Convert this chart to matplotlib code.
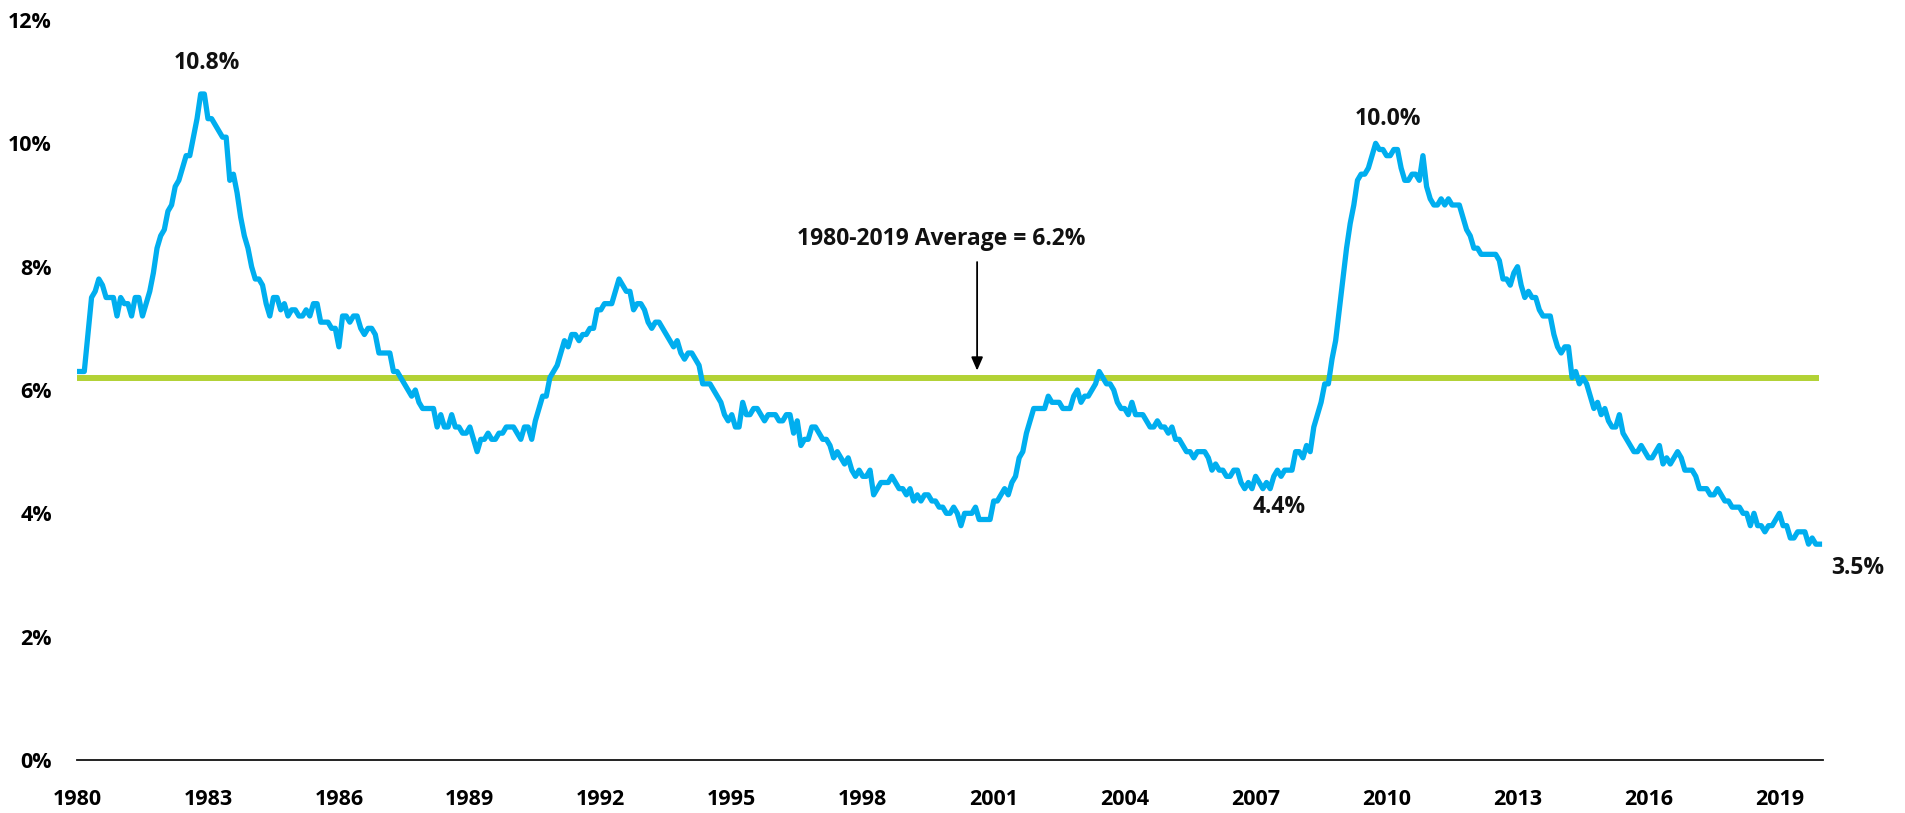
import matplotlib
matplotlib.use("Agg")
import matplotlib.pyplot as plt
import numpy as np

plt.rcParams['font.family'] = ['Open Sans', 'DejaVu Sans']

years = list(range(1980, 2020))
unemployment = [
    [6.3, 6.3, 6.3, 6.9, 7.5, 7.6, 7.8, 7.7, 7.5, 7.5, 7.5, 7.2],  # 1980
    [7.5, 7.4, 7.4, 7.2, 7.5, 7.5, 7.2, 7.4, 7.6, 7.9, 8.3, 8.5],  # 1981
    [8.6, 8.9, 9.0, 9.3, 9.4, 9.6, 9.8, 9.8, 10.1, 10.4, 10.8, 10.8],  # 1982
    [10.4, 10.4, 10.3, 10.2, 10.1, 10.1, 9.4, 9.5, 9.2, 8.8, 8.5, 8.3],  # 1983
    [8.0, 7.8, 7.8, 7.7, 7.4, 7.2, 7.5, 7.5, 7.3, 7.4, 7.2, 7.3],  # 1984
    [7.3, 7.2, 7.2, 7.3, 7.2, 7.4, 7.4, 7.1, 7.1, 7.1, 7.0, 7.0],  # 1985
    [6.7, 7.2, 7.2, 7.1, 7.2, 7.2, 7.0, 6.9, 7.0, 7.0, 6.9, 6.6],  # 1986
    [6.6, 6.6, 6.6, 6.3, 6.3, 6.2, 6.1, 6.0, 5.9, 6.0, 5.8, 5.7],  # 1987
    [5.7, 5.7, 5.7, 5.4, 5.6, 5.4, 5.4, 5.6, 5.4, 5.4, 5.3, 5.3],  # 1988
    [5.4, 5.2, 5.0, 5.2, 5.2, 5.3, 5.2, 5.2, 5.3, 5.3, 5.4, 5.4],  # 1989
    [5.4, 5.3, 5.2, 5.4, 5.4, 5.2, 5.5, 5.7, 5.9, 5.9, 6.2, 6.3],  # 1990
    [6.4, 6.6, 6.8, 6.7, 6.9, 6.9, 6.8, 6.9, 6.9, 7.0, 7.0, 7.3],  # 1991
    [7.3, 7.4, 7.4, 7.4, 7.6, 7.8, 7.7, 7.6, 7.6, 7.3, 7.4, 7.4],  # 1992
    [7.3, 7.1, 7.0, 7.1, 7.1, 7.0, 6.9, 6.8, 6.7, 6.8, 6.6, 6.5],  # 1993
    [6.6, 6.6, 6.5, 6.4, 6.1, 6.1, 6.1, 6.0, 5.9, 5.8, 5.6, 5.5],  # 1994
    [5.6, 5.4, 5.4, 5.8, 5.6, 5.6, 5.7, 5.7, 5.6, 5.5, 5.6, 5.6],  # 1995
    [5.6, 5.5, 5.5, 5.6, 5.6, 5.3, 5.5, 5.1, 5.2, 5.2, 5.4, 5.4],  # 1996
    [5.3, 5.2, 5.2, 5.1, 4.9, 5.0, 4.9, 4.8, 4.9, 4.7, 4.6, 4.7],  # 1997
    [4.6, 4.6, 4.7, 4.3, 4.4, 4.5, 4.5, 4.5, 4.6, 4.5, 4.4, 4.4],  # 1998
    [4.3, 4.4, 4.2, 4.3, 4.2, 4.3, 4.3, 4.2, 4.2, 4.1, 4.1, 4.0],  # 1999
    [4.0, 4.1, 4.0, 3.8, 4.0, 4.0, 4.0, 4.1, 3.9, 3.9, 3.9, 3.9],  # 2000
    [4.2, 4.2, 4.3, 4.4, 4.3, 4.5, 4.6, 4.9, 5.0, 5.3, 5.5, 5.7],  # 2001
    [5.7, 5.7, 5.7, 5.9, 5.8, 5.8, 5.8, 5.7, 5.7, 5.7, 5.9, 6.0],  # 2002
    [5.8, 5.9, 5.9, 6.0, 6.1, 6.3, 6.2, 6.1, 6.1, 6.0, 5.8, 5.7],  # 2003
    [5.7, 5.6, 5.8, 5.6, 5.6, 5.6, 5.5, 5.4, 5.4, 5.5, 5.4, 5.4],  # 2004
    [5.3, 5.4, 5.2, 5.2, 5.1, 5.0, 5.0, 4.9, 5.0, 5.0, 5.0, 4.9],  # 2005
    [4.7, 4.8, 4.7, 4.7, 4.6, 4.6, 4.7, 4.7, 4.5, 4.4, 4.5, 4.4],  # 2006
    [4.6, 4.5, 4.4, 4.5, 4.4, 4.6, 4.7, 4.6, 4.7, 4.7, 4.7, 5.0],  # 2007
    [5.0, 4.9, 5.1, 5.0, 5.4, 5.6, 5.8, 6.1, 6.1, 6.5, 6.8, 7.3],  # 2008
    [7.8, 8.3, 8.7, 9.0, 9.4, 9.5, 9.5, 9.6, 9.8, 10.0, 9.9, 9.9],  # 2009
    [9.8, 9.8, 9.9, 9.9, 9.6, 9.4, 9.4, 9.5, 9.5, 9.4, 9.8, 9.3],  # 2010
    [9.1, 9.0, 9.0, 9.1, 9.0, 9.1, 9.0, 9.0, 9.0, 8.8, 8.6, 8.5],  # 2011
    [8.3, 8.3, 8.2, 8.2, 8.2, 8.2, 8.2, 8.1, 7.8, 7.8, 7.7, 7.9],  # 2012
    [8.0, 7.7, 7.5, 7.6, 7.5, 7.5, 7.3, 7.2, 7.2, 7.2, 6.9, 6.7],  # 2013
    [6.6, 6.7, 6.7, 6.2, 6.3, 6.1, 6.2, 6.1, 5.9, 5.7, 5.8, 5.6],  # 2014
    [5.7, 5.5, 5.4, 5.4, 5.6, 5.3, 5.2, 5.1, 5.0, 5.0, 5.1, 5.0],  # 2015
    [4.9, 4.9, 5.0, 5.1, 4.8, 4.9, 4.8, 4.9, 5.0, 4.9, 4.7, 4.7],  # 2016
    [4.7, 4.6, 4.4, 4.4, 4.4, 4.3, 4.3, 4.4, 4.3, 4.2, 4.2, 4.1],  # 2017
    [4.1, 4.1, 4.0, 4.0, 3.8, 4.0, 3.8, 3.8, 3.7, 3.8, 3.8, 3.9],  # 2018
    [4.0, 3.8, 3.8, 3.6, 3.6, 3.7, 3.7, 3.7, 3.5, 3.6, 3.5, 3.5],  # 2019
]
average = 6.2
xtick_years = [1980, 1983, 1986, 1989, 1992, 1995, 1998, 2001, 2004, 2007, 2010, 2013, 2016, 2019]
ytick_values = [0, 2, 4, 6, 8, 10, 12]
ytick_labels = ['0%', '2%', '4%', '6%', '8%', '10%', '12%']
callouts = [
    ('10.8%', 1982.98, 11.3),
    ('10.0%', 2010.04, 10.4),
    ('4.4%', 2007.55, 4.1),
    ('3.5%', 2020.8, 3.12),
]
avg_label = '1980-2019 Average = 6.2%'

x = np.array([y + m / 12.0 for y in years for m in range(12)])
vals = np.array([v for row in unemployment for v in row])

fig = plt.figure(figsize=(19.06, 8.13), dpi=100)
ax = fig.add_axes([0.0404, 0.0652, 0.9161, 0.9102])

ax.plot([x[0], x[-1]], [average, average], color='#B2D235', lw=4.3, solid_capstyle='butt', zorder=2)
ax.plot(x, vals, color='#00AEEF', lw=3.8, solid_joinstyle='round', zorder=3)

ax.set_xlim(1980, 2020)
ax.set_ylim(0, 12)
ax.set_xticks(xtick_years)
ax.set_xticklabels([str(y) for y in xtick_years])
ax.set_yticks(ytick_values)
ax.set_yticklabels(ytick_labels)
ax.tick_params(axis='both', length=0, labelsize=15.5)
ax.tick_params(axis='y', pad=18)
ax.tick_params(axis='x', pad=21)
for lab in ax.get_xticklabels() + ax.get_yticklabels():
    lab.set_fontweight('bold')

for s in ['top', 'right', 'left']:
    ax.spines[s].set_visible(False)
ax.spines['bottom'].set_linewidth(1.3)
ax.spines['bottom'].set_color('#111111')

for txt, xx, yy in callouts:
    ax.text(xx, yy, txt, ha='center', va='center', fontsize=16.5, fontweight='bold',
            color='#111111', clip_on=False)

ax.text(1999.8, 8.45, avg_label, ha='center', va='center', fontsize=16.5,
        fontweight='bold', color='#111111')
ax.annotate('', xy=(2000.62, 6.27), xytext=(2000.62, 8.12),
            arrowprops=dict(arrowstyle='-|>,head_width=0.35,head_length=0.8', color='black', lw=1.3))

fig.savefig('out.png', dpi=100, facecolor='white')
